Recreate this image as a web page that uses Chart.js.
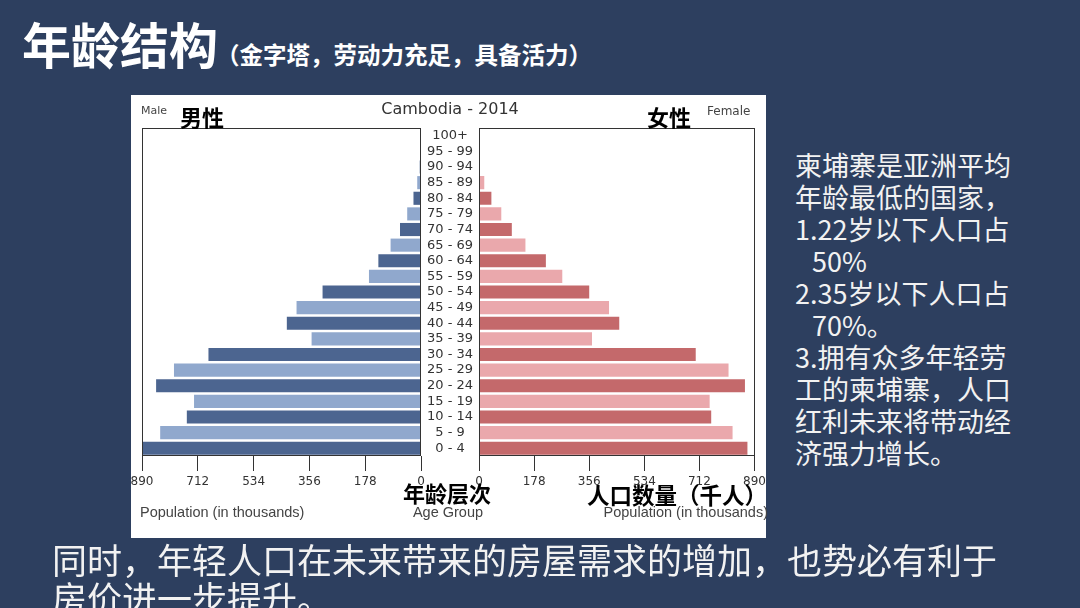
<!DOCTYPE html>
<html>
<head>
<meta charset="utf-8">
<script src="https://cdn.jsdelivr.net/npm/chart.js@4"></script>
<style>
  html, body { margin: 0; padding: 0; }
  body { width: 1080px; height: 608px; background: #2d3f5f; position: relative; overflow: hidden; font-family: "Noto Sans CJK SC", sans-serif; }
  .abs { position: absolute; white-space: nowrap; }
  #panel { position: absolute; left: 131px; top: 95px; width: 635px; height: 443px; background: #fff; }
  canvas { position: absolute; }
  .cn { font-family: "Noto Sans CJK SC", sans-serif; font-weight: bold; color: #000; line-height: 1; }
  .en { font-family: "DejaVu Sans", sans-serif; color: #333; line-height: 1; }
  .pop { font-family: "Liberation Sans", sans-serif; font-size: 14.5px; color: #444; line-height: 1; }
</style>
</head>
<body>
<div class="abs" style="left:22px;top:16px;color:#fff;font-weight:bold;line-height:1.1">
  <span style="font-size:49px">年龄结构</span><span style="font-size:23.5px;margin-left:-2px">（金字塔，劳动力充足，具备活力）</span>
</div>

<div id="panel"></div>
<canvas id="maleChart" width="349" height="443" style="left:130px;top:95px"></canvas>
<canvas id="femaleChart" width="311" height="443" style="left:459px;top:95px"></canvas>

<div class="abs en" style="left:141px;top:105px;font-size:11px;color:#444">Male</div>
<div class="abs en" style="left:707px;top:105px;font-size:12px;color:#444">Female</div>
<div class="abs en" style="left:450px;top:101px;font-size:16px;transform:translateX(-50%)">Cambodia - 2014</div>
<div class="abs cn" style="left:180px;top:105px;font-size:22px">男性</div>
<div class="abs cn" style="left:647px;top:105px;font-size:22px">女性</div>
<div class="abs pop" style="left:140px;top:505px">Population (in thousands)</div>
<div class="abs pop" style="left:448px;top:505px;transform:translateX(-50%)">Age Group</div>
<div class="abs pop" style="right:312px;top:505px">Population (in thousands)</div>
<div class="abs cn" style="left:403px;top:481px;font-size:22px">年龄层次</div>
<div class="abs cn" style="left:587px;top:483px;font-size:22.5px">人口数量（千人）</div>

<div class="abs" style="left:795px;top:149px;font-size:27px;line-height:32px;color:#f2f2f2">
  柬埔寨是亚洲平均<br>年龄最低的国家，<br>1.22岁以下人口占<br><span style="padding-left:17px">50%</span><br>2.35岁以下人口占<br><span style="padding-left:17px">70%。</span><br>3.拥有众多年轻劳<br>工的柬埔寨，人口<br>红利未来将带动经<br>济强力增长。
</div>

<div class="abs" style="left:52px;top:540px;font-size:35px;line-height:38px;color:#f2f2f2">
  同时，年轻人口在未来带来的房屋需求的增加，也势必有利于<br>房价进一步提升。
</div>

<script>
// age groups, bottom to top
const ageGroups = ['0 - 4', '5 - 9', '10 - 14', '15 - 19', '20 - 24', '25 - 29', '30 - 34',
  '35 - 39', '40 - 44', '45 - 49', '50 - 54', '55 - 59', '60 - 64', '65 - 69', '70 - 74',
  '75 - 79', '80 - 84', '85 - 89', '90 - 94', '95 - 99', '100+']

// population in thousands
const maleValues = [890, 832, 747, 724, 845, 788, 678, 349, 428, 397, 314, 166, 136, 97, 67, 44, 24, 12, 4, 1, 0.5]
const femaleValues = [867, 819, 750, 745, 859, 806, 700, 365, 453, 420, 356, 269, 216, 150, 106, 72, 40, 17, 3, 1, 0.5]

const tickValues = [0, 178, 356, 534, 712, 890]

const maleColors = ageGroups.map((a, i) => i % 2 === 0 ? '#4c6590' : '#90a8cd')
const femaleColors = ageGroups.map((a, i) => i % 2 === 0 ? '#c4696b' : '#eaa8ac')

// box round the plot area
const frame = {
    id: 'frame',
    afterDraw(chart) {
        const a = chart.chartArea
        const ctx = chart.ctx
        ctx.save()
        ctx.strokeStyle = '#333'
        ctx.lineWidth = 1
        ctx.strokeRect(Math.round(a.left) + 0.5, Math.round(a.top) + 0.5,
            Math.round(a.right - a.left) - 1, Math.round(a.bottom - a.top) - 1)
        ctx.restore()
    }
}

function xScale(reverse) {
    return {
        type: 'linear',
        min: 0,
        max: 890,
        reverse: reverse,
        afterBuildTicks: s => { s.ticks = tickValues.map(v => ({ value: v })) },
        grid: { drawOnChartArea: false, drawTicks: true, tickLength: 15, color: '#333' },
        border: { display: false },
        ticks: {
            color: '#333',
            font: { family: 'DejaVu Sans', size: 12 },
            padding: 4,
            maxRotation: 0,
            autoSkip: false,
        },
        afterFit: s => { s.height = 82 },
    }
}

let maleChart = new Chart(document.getElementById('maleChart'), {
    type: 'bar',
    data: {
        labels: ageGroups,
        datasets: [{
            data: maleValues,
            backgroundColor: maleColors,
            borderWidth: 0,
            barPercentage: 1,
            categoryPercentage: 0.84,
        }]
    },
    options: {
        indexAxis: 'y',
        responsive: false,
        animation: false,
        layout: { padding: { left: 12, top: 33, right: 0, bottom: 0 } },
        plugins: { legend: { display: false }, tooltip: { enabled: false } },
        scales: {
            x: xScale(true),
            y: {
                position: 'right',
                reverse: true,
                grid: { display: false, drawTicks: false },
                border: { display: false },
                ticks: {
                    color: '#333',
                    font: { family: 'DejaVu Sans', size: 13 },
                    crossAlign: 'center',
                    padding: 6,
                    autoSkip: false,
                },
                afterFit: s => { s.width = 58 },
            }
        }
    },
    plugins: [frame]
});

let femaleChart = new Chart(document.getElementById('femaleChart'), {
    type: 'bar',
    data: {
        labels: ageGroups,
        datasets: [{
            data: femaleValues,
            backgroundColor: femaleColors,
            borderWidth: 0,
            barPercentage: 1,
            categoryPercentage: 0.84,
        }]
    },
    options: {
        indexAxis: 'y',
        responsive: false,
        animation: false,
        layout: { padding: { left: 20, top: 33, right: 12, bottom: 0 } },
        plugins: { legend: { display: false }, tooltip: { enabled: false } },
        scales: {
            x: xScale(false),
            y: { display: false, reverse: true }
        }
    },
    plugins: [frame]
});
</script>
</body>
</html>
